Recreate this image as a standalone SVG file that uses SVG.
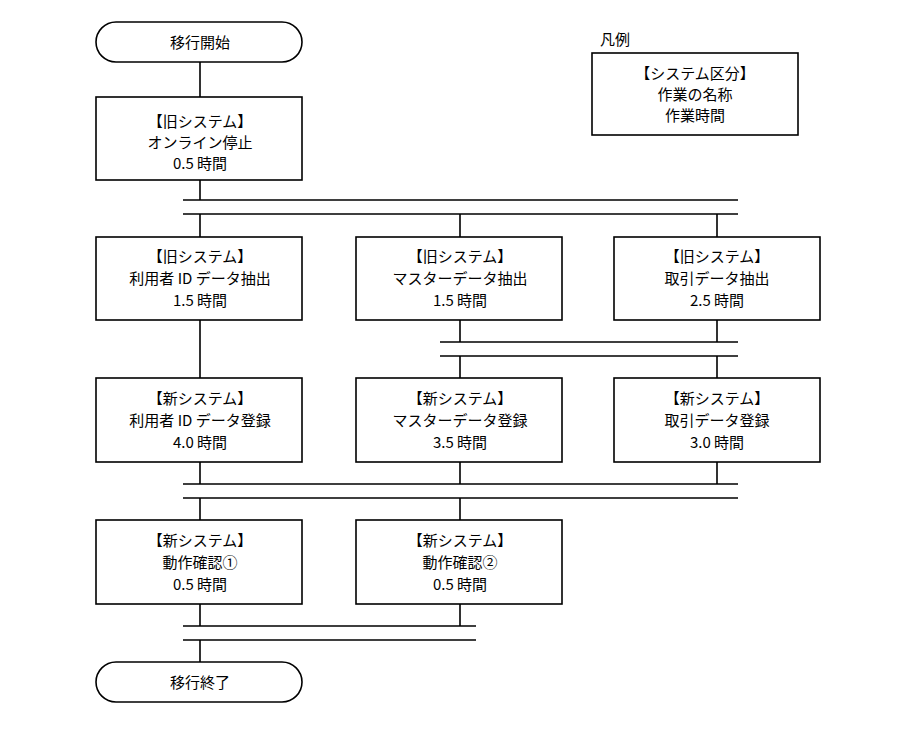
<svg xmlns="http://www.w3.org/2000/svg" width="900" height="730" viewBox="0 0 900 730">
<style>
.b{fill:#fff;stroke:#000;stroke-width:1.6}
.l{stroke:#000;stroke-width:1.6;fill:none}
text{font-family:"Noto Sans CJK JP","Liberation Sans",sans-serif;font-size:15px;text-anchor:middle;fill:#000}
</style>
<rect width="900" height="730" fill="#fff"/>
<g id="connectors" class="l">
<path d="M200 62V97M200 180V200M183 200H738M183 214H738M200 214V237M460 214V237M717 214V237"/>
<path d="M200 320V378M460 320V342M717 320V342M440 342H738M440 356H738M460 356V378M717 356V378"/>
<path d="M200 462V484M460 462V484M717 462V484M183 484H738M183 498H738M200 498V520M460 498V520"/>
<path d="M200 604V626M460 604V626M183 626H476M183 640H476M200 640V662"/>
</g>
<g id="start"><rect class="b" x="96" y="22" width="206" height="40" rx="20"/><text x="200" y="48">移行開始</text></g>
<g id="n1"><rect class="b" x="96" y="97" width="206" height="83"/><text x="200" y="127">【旧システム】</text><text x="200" y="148">オンライン停止</text><text x="200" y="169">0.5 時間</text></g>
<g id="n2"><rect class="b" x="96" y="237" width="206" height="83"/><text x="200" y="262">【旧システム】</text><text x="200" y="284">利用者 ID データ抽出</text><text x="200" y="306">1.5 時間</text></g>
<g id="n3"><rect class="b" x="356" y="237" width="206" height="83"/><text x="460" y="262">【旧システム】</text><text x="460" y="284">マスターデータ抽出</text><text x="460" y="306">1.5 時間</text></g>
<g id="n4"><rect class="b" x="614" y="237" width="206" height="83"/><text x="717" y="262">【旧システム】</text><text x="717" y="284">取引データ抽出</text><text x="717" y="306">2.5 時間</text></g>
<g id="n5"><rect class="b" x="96" y="378" width="206" height="84"/><text x="200" y="404">【新システム】</text><text x="200" y="426">利用者 ID データ登録</text><text x="200" y="448">4.0 時間</text></g>
<g id="n6"><rect class="b" x="356" y="378" width="206" height="84"/><text x="460" y="404">【新システム】</text><text x="460" y="426">マスターデータ登録</text><text x="460" y="448">3.5 時間</text></g>
<g id="n7"><rect class="b" x="614" y="378" width="206" height="84"/><text x="717" y="404">【新システム】</text><text x="717" y="426">取引データ登録</text><text x="717" y="448">3.0 時間</text></g>
<g id="n8"><rect class="b" x="96" y="520" width="206" height="84"/><text x="200" y="546">【新システム】</text><text x="200" y="568">動作確認①</text><text x="200" y="590">0.5 時間</text></g>
<g id="n9"><rect class="b" x="356" y="520" width="206" height="84"/><text x="460" y="546">【新システム】</text><text x="460" y="568">動作確認②</text><text x="460" y="590">0.5 時間</text></g>
<g id="end"><rect class="b" x="96" y="662" width="206" height="40" rx="20"/><text x="200" y="688">移行終了</text></g>
<g id="legend"><text x="600" y="45" style="text-anchor:start">凡例</text><rect class="b" x="592" y="53" width="206" height="82"/><text x="695" y="79">【システム区分】</text><text x="695" y="100">作業の名称</text><text x="695" y="121">作業時間</text></g>
</svg>
